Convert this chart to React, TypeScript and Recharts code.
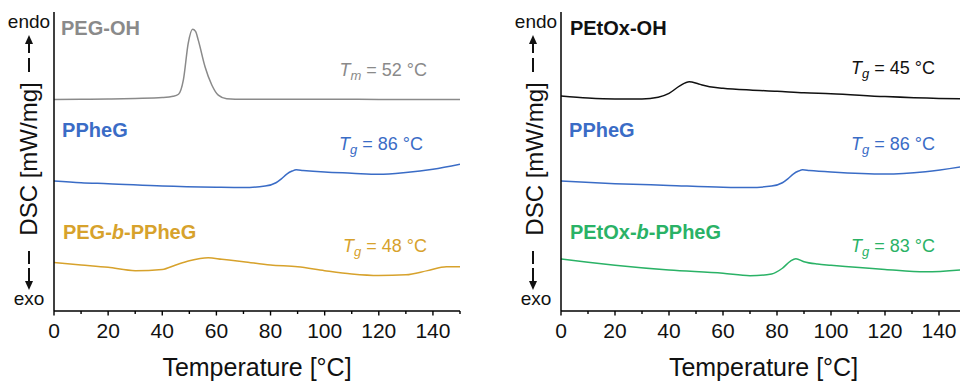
import { LineChart, Line, XAxis, YAxis, ReferenceDot } from "recharts";

const FONT = "'Liberation Sans', Arial, Helvetica, sans-serif";

const GRAY = "#8a8a8a";
const BLUE = "#3a6cc6";
const GOLD = "#d7a22c";
const GREEN = "#2ab266";
const BLACK = "#111111";

const xTicks = [0, 10, 20, 30, 40, 50, 60, 70, 80, 90, 100, 110, 120, 130, 140, 150];

// left panel
const pegOhTemp = [0, 10, 20, 30, 40, 44, 46, 47.8, 49.6, 51.2, 52.3, 53.3, 55.8, 58.3, 60.7, 63.8, 70, 90, 110, 130, 150];
const pegOhDsc = [70.7, 70.8, 70.9, 71.1, 71.4, 71.8, 72.5, 77.3, 89.6, 94.2, 93.5, 90.6, 81.7, 75.6, 72.2, 71.0, 70.8, 70.8, 70.8, 70.7, 70.7];

const ppheGTemp = [0, 10, 20, 40, 60, 70, 78, 82, 84, 86, 88, 89.5, 92, 100, 110, 120, 130, 140, 150];
const ppheGDsc = [43.5, 42.9, 42.6, 41.8, 41.4, 41.3, 41.8, 42.9, 44.2, 45.8, 46.8, 47.2, 47.0, 46.5, 46.1, 45.7, 46.3, 47.4, 49.1];

const pegBTemp = [0, 10, 20, 30, 40, 45, 50, 57, 62, 70, 80, 90, 100, 110, 120, 130, 138, 145, 150];
const pegBDsc = [16.2, 15.4, 14.6, 13.5, 13.9, 15.4, 16.8, 17.8, 17.3, 16.5, 15.4, 14.8, 13.5, 12.4, 11.9, 12.1, 13.5, 14.8, 14.8];

// right panel
const petoxTemp = [0, 10, 20, 30, 36, 40, 44, 47.5, 51, 55, 60, 70, 80, 90, 100, 120, 140, 150];
const petoxDsc = [71.9, 71.2, 70.9, 70.9, 71.5, 72.8, 75.3, 76.7, 75.9, 75.0, 74.5, 73.9, 73.5, 73.0, 72.7, 71.7, 71.1, 71.0];

const ppheG2Temp = [0, 20, 40, 60, 70, 78, 82, 84, 86, 88, 89.5, 92, 100, 120, 135, 150];
const ppheG2Dsc = [43.5, 42.6, 42.0, 41.4, 41.3, 41.8, 42.9, 44.2, 45.8, 46.8, 47.2, 47.0, 46.5, 45.8, 46.6, 48.5];

const petoxBTemp = [0, 10, 20, 40, 60, 70, 78, 82, 85, 87, 90, 95, 100, 120, 135, 150];
const petoxBDsc = [17.4, 16.3, 15.3, 13.7, 12.6, 11.8, 12.4, 14.3, 16.7, 17.5, 16.5, 15.7, 15.3, 13.9, 13.1, 13.9];

type Pt = { t: number; dsc: number };
const pts = (t: number[], v: number[]): Pt[] => t.map((x, i) => ({ t: x, dsc: v[i] }));

type Note = {
  t: number;
  v: number;
  color: string;
  name?: string;
  sym?: string;
  sub?: string;
  rest?: string;
};

const leftNotes: Note[] = [
  { t: 2.6, v: 92.3, color: GRAY, name: "PEG-OH" },
  { t: 137.8, v: 78.6, color: GRAY, sym: "T", sub: "m", rest: " = 52 °C" },
  { t: 3.0, v: 58.2, color: BLUE, name: "PPheG" },
  { t: 136.3, v: 53.8, color: BLUE, sym: "T", sub: "g", rest: " = 86 °C" },
  { t: 3.3, v: 24.1, color: GOLD, name: "PEG-|b|-PPheG" },
  { t: 137.8, v: 19.7, color: GOLD, sym: "T", sub: "g", rest: " = 48 °C" },
];

const rightNotes: Note[] = [
  { t: 3.3, v: 92.3, color: BLACK, name: "PEtOx-OH" },
  { t: 138.5, v: 79.3, color: BLACK, sym: "T", sub: "g", rest: " = 45 °C" },
  { t: 3.0, v: 58.2, color: BLUE, name: "PPheG" },
  { t: 138.5, v: 53.8, color: BLUE, sym: "T", sub: "g", rest: " = 86 °C" },
  { t: 3.3, v: 24.1, color: GREEN, name: "PEtOx-|b|-PPheG" },
  { t: 138.5, v: 19.7, color: GREEN, sym: "T", sub: "g", rest: " = 83 °C" },
];

function NoteText(props: any) {
  const { viewBox, note } = props;
  const x = viewBox.x + viewBox.width / 2;
  const y = viewBox.y + viewBox.height / 2;
  const n: Note = note;
  if (n.name) {
    const parts = n.name.split("|");
    return (
      <text x={x} y={y} fill={n.color} fontFamily={FONT} fontSize={20} fontWeight="bold" textAnchor="start">
        {parts.map((p, i) => (
          <tspan key={i} fontStyle={i === 1 ? "italic" : "normal"}>{p}</tspan>
        ))}
      </text>
    );
  }
  return (
    <text x={x} y={y} fill={n.color} fontFamily={FONT} fontSize={18} textAnchor="end">
      <tspan fontStyle="italic">{n.sym}</tspan>
      <tspan fontStyle="italic" fontSize={13} dy={4}>{n.sub}</tspan>
      <tspan dy={-4}>{n.rest}</tspan>
    </text>
  );
}

function XTick(props: any) {
  const { x, y, payload, maxLabel } = props;
  const v = payload.value;
  const major = v % 20 === 0;
  return (
    <g>
      <line x1={x} x2={x} y1={y - 12} y2={y - 12 + (major ? 4.5 : 3)} stroke="#000" strokeWidth={1.4} />
      {major && v <= maxLabel && (
        <text x={x} y={y} dy="0.71em" textAnchor="middle" fontSize={21} fontFamily={FONT} fill="#111">
          {v}
        </text>
      )}
    </g>
  );
}

function YLabel(props: any) {
  const { viewBox, arrowOff, textOff } = props;
  const ax = viewBox.x + viewBox.width;
  const arX = ax - arrowOff;
  const tx = ax - textOff;
  const cx = ax - 25;
  return (
    <g fontFamily={FONT} fill="#111">
      <text x={cx} y={28} fontSize={19} textAnchor="middle" fill="#111">endo</text>
      <polygon points={`${arX},35 ${arX - 4},44 ${arX + 4},44`} fill="#111" />
      <line x1={arX} x2={arX} y1={43} y2={53} stroke="#111" strokeWidth={2} />
      <line x1={arX} x2={arX} y1={58} y2={72} stroke="#111" strokeWidth={2} />
      <text x={tx} y={159} fontSize={24} textAnchor="middle" fill="#111" transform={`rotate(-90, ${tx}, 159)`}>
        DSC [mW/mg]
      </text>
      <line x1={arX} x2={arX} y1={251} y2={264} stroke="#111" strokeWidth={2} />
      <line x1={arX} x2={arX} y1={268} y2={282} stroke="#111" strokeWidth={2} />
      <polygon points={`${arX},290 ${arX - 4},281 ${arX + 4},281`} fill="#111" />
      <text x={cx} y={305} fontSize={19} textAnchor="middle" fill="#111">exo</text>
    </g>
  );
}

type Series = { key: string; data: Pt[]; color: string };

function Panel(props: {
  left: number;
  width: number;
  yWidth: number;
  marginRight: number;
  series: Series[];
  notes: Note[];
  arrowOff: number;
  textOff: number;
  maxLabel: number;
}) {
  const { left, width, yWidth, marginRight, series, notes, arrowOff, textOff, maxLabel } = props;
  return (
    <div style={{ position: "absolute", left, top: 0 }}>
      <LineChart width={width} height={381} margin={{ top: 12, right: marginRight, bottom: 0, left: 0 }}>
        <XAxis
          type="number"
          dataKey="t"
          domain={[0, 150]}
          ticks={xTicks}
          interval={0}
          allowDataOverflow
          height={70}
          tickSize={0}
          tickMargin={12}
          tickLine={false}
          tick={<XTick maxLabel={maxLabel} />}
          axisLine={{ stroke: "#000", strokeWidth: 1.5 }}
          label={{ value: "Temperature [°C]", position: "insideBottom", offset: 5, fontSize: 25, fill: "#111", fontFamily: FONT }}
        />
        <YAxis
          type="number"
          domain={[0, 100]}
          width={yWidth}
          tick={false}
          tickLine={false}
          axisLine={{ stroke: "#000", strokeWidth: 1.5 }}
          label={<YLabel arrowOff={arrowOff} textOff={textOff} />}
        />
        {series.map((s) => (
          <Line
            key={s.key}
            data={s.data}
            dataKey="dsc"
            type="monotone"
            stroke={s.color}
            strokeWidth={1.5}
            dot={false}
            activeDot={false}
            isAnimationActive={false}
          />
        ))}
        {notes.map((n, i) => (
          <ReferenceDot
            key={i}
            x={n.t}
            y={n.v}
            r={1}
            fill="none"
            stroke="none"
            label={<NoteText note={n} />}
          />
        ))}
      </LineChart>
    </div>
  );
}

export default function App() {
  const leftSeries: Series[] = [
    { key: "peg", data: pts(pegOhTemp, pegOhDsc), color: GRAY },
    { key: "pphe", data: pts(ppheGTemp, ppheGDsc), color: BLUE },
    { key: "pegb", data: pts(pegBTemp, pegBDsc), color: GOLD },
  ];
  const rightSeries: Series[] = [
    { key: "petox", data: pts(petoxTemp, petoxDsc), color: BLACK },
    { key: "pphe", data: pts(ppheG2Temp, ppheG2Dsc), color: BLUE },
    { key: "petoxb", data: pts(petoxBTemp, petoxBDsc), color: GREEN },
  ];
  return (
    <div
      style={{
        position: "absolute",
        left: 0,
        top: 0,
        width: 960,
        height: 381,
        overflow: "hidden",
        background: "#fff",
        fontFamily: FONT,
      }}
    >
      <Panel left={0} width={480} yWidth={54} marginRight={20} series={leftSeries} notes={leftNotes} arrowOff={25} textOff={17} maxLabel={140} />
      <Panel left={480} width={500} yWidth={81} marginRight={14} series={rightSeries} notes={rightNotes} arrowOff={28} textOff={18} maxLabel={140} />
    </div>
  );
}
